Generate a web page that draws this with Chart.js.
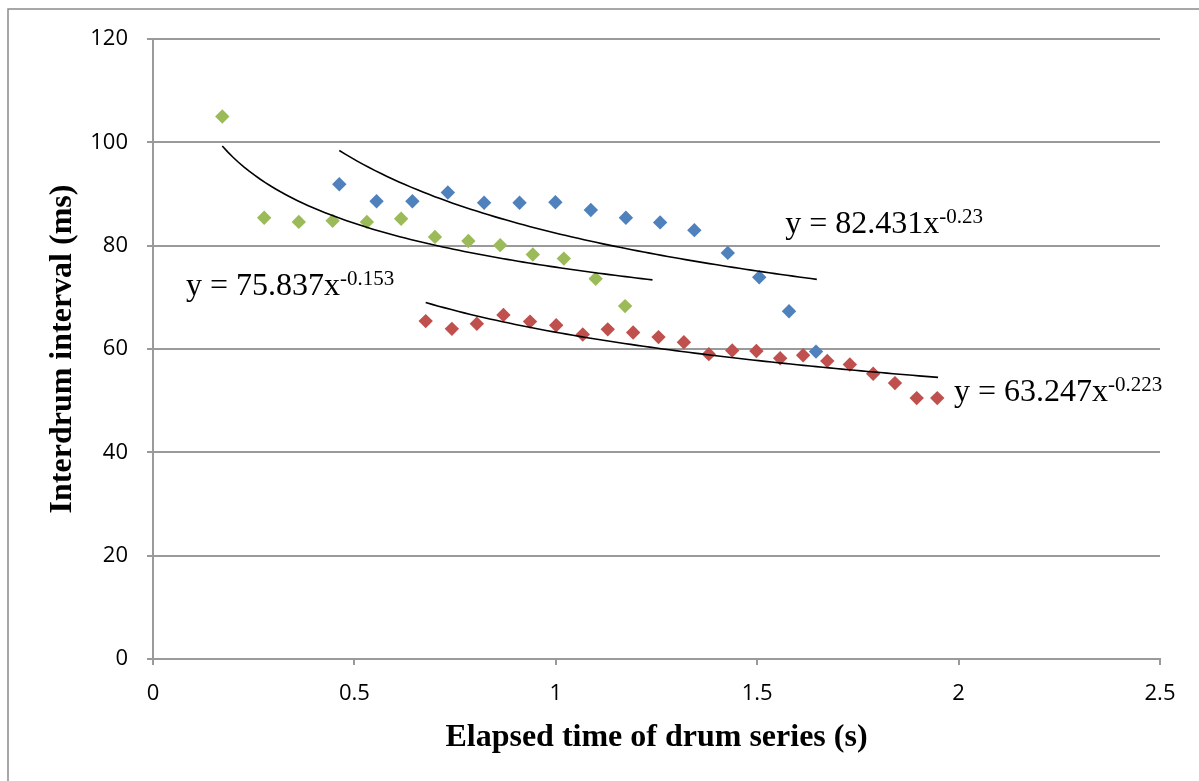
<!DOCTYPE html>
<html>
<head>
<meta charset="utf-8">
<script src="https://cdn.jsdelivr.net/npm/chart.js@4/dist/chart.umd.min.js"></script>
<style>
  html, body { margin: 0; padding: 0; background: #ffffff; }
  #wrap { width: 1199px; height: 781px; position: relative; }
</style>
</head>
<body>
<div id="wrap"><canvas id="c" width="1199" height="781"></canvas></div>
<script>
// ---- data ----
const blueX = [0.4625, 0.555, 0.644, 0.732, 0.822, 0.910, 0.999, 1.087, 1.174, 1.259, 1.344, 1.427, 1.505, 1.579, 1.646];
const blueY = [91.9, 88.6, 88.6, 90.3, 88.3, 88.3, 88.4, 86.9, 85.4, 84.5, 83.0, 78.6, 73.9, 67.3, 59.5];

const redX = [0.677, 0.742, 0.804, 0.870, 0.936, 1.001, 1.067, 1.129, 1.192, 1.255, 1.318, 1.380, 1.438, 1.498, 1.557, 1.614, 1.674, 1.730, 1.788, 1.842, 1.896, 1.947];
const redY = [65.4, 63.9, 64.9, 66.6, 65.3, 64.6, 62.8, 63.8, 63.2, 62.3, 61.3, 59.0, 59.7, 59.6, 58.2, 58.8, 57.7, 57.0, 55.2, 53.4, 50.5, 50.5];

const greenX = [0.172, 0.276, 0.362, 0.446, 0.531, 0.616, 0.700, 0.783, 0.862, 0.943, 1.020, 1.099, 1.172];
const greenY = [105.0, 85.4, 84.6, 84.8, 84.6, 85.2, 81.7, 80.9, 80.1, 78.3, 77.5, 73.6, 68.3];

// power trendlines y = a * x^b (coefficients as printed on the chart)
const trendA = [82.431, 63.247, 75.837];
const trendB = [-0.23, -0.223, -0.153];
const trendFrom = [0.4625, 0.677, 0.172];
const trendTo = [1.648, 1.949, 1.24];
const trendText = ['82.431', '63.247', '75.837'];
const trendExpText = ['-0.23', '-0.223', '-0.153'];

const xTickLabels = ['0', '0.5', '1', '1.5', '2', '2.5'];
const yTickLabels = ['0', '20', '40', '60', '80', '100', '120'];

const seriesColors = ['#4F81BD', '#C0504D', '#9BBB59'];

function pts(xs, ys) { return xs.map((x, i) => ({ x: x, y: ys[i] })); }
function trend(k) {
  const out = [];
  const n = 80;
  for (let i = 0; i <= n; i++) {
    const x = trendFrom[k] + (trendTo[k] - trendFrom[k]) * i / n;
    out.push({ x: x, y: trendA[k] * Math.pow(x, trendB[k]) });
  }
  return out;
}

const seriesData = [pts(blueX, blueY), pts(redX, redY), pts(greenX, greenY)];

const datasets = [];
for (let k = 0; k < 3; k++) {
  datasets.push({
    label: 'trend' + k,
    data: trend(k),
    showLine: true,
    borderColor: '#000000',
    borderWidth: 1.6,
    pointRadius: 0,
    fill: false,
    tension: 0,
    order: 0
  });
}
for (let k = 0; k < 3; k++) {
  datasets.push({
    label: 'series' + k,
    data: seriesData[k],
    showLine: false,
    pointStyle: 'rectRot',
    pointRadius: 7.2,
    pointBackgroundColor: seriesColors[k],
    pointBorderWidth: 0,
    borderWidth: 0,
    order: k + 1
  });
}

// label anchors (left, baseline) in data coordinates for equation text
const labelAnchor = [
  { x: 1.5697, y: 82.5 },
  { x: 1.9885, y: 49.9 },
  { x: 0.0819, y: 70.4 }
];

const borderPlugin = {
  id: 'outerBorder',
  beforeDraw(chart) {
    const ctx = chart.ctx;
    ctx.save();
    ctx.fillStyle = '#ffffff';
    ctx.fillRect(0, 0, chart.width, chart.height);
    ctx.strokeStyle = '#8a8a8a';
    ctx.lineWidth = 1.5;
    ctx.strokeRect(8, 9, chart.width + 10, chart.height + 10);
    ctx.restore();
  }
};

const eqPlugin = {
  id: 'equations',
  afterDatasetsDraw(chart) {
    const ctx = chart.ctx;
    const xs = chart.scales.x, ys = chart.scales.y;
    ctx.save();
    ctx.fillStyle = '#000000';
    ctx.textBaseline = 'alphabetic';
    ctx.textAlign = 'left';
    for (let k = 0; k < 3; k++) {
      const px = xs.getPixelForValue(labelAnchor[k].x);
      const py = ys.getPixelForValue(labelAnchor[k].y);
      ctx.font = '32px "Liberation Serif", "Times New Roman", serif';
      const main = 'y = ' + trendText[k] + 'x';
      ctx.fillText(main, px, py);
      const w = ctx.measureText(main).width;
      ctx.font = '21px "Liberation Serif", "Times New Roman", serif';
      ctx.fillText(trendExpText[k], px + w, py - 10);
    }
    ctx.restore();
  }
};

const gridColor = '#9a9a9a';

new Chart(document.getElementById('c'), {
  type: 'scatter',
  data: { datasets: datasets },
  plugins: [borderPlugin, eqPlugin],
  options: {
    responsive: false,
    animation: false,
    devicePixelRatio: 1,
    layout: { padding: { top: 39, right: 39, left: 0, bottom: 0 } },
    plugins: {
      legend: { display: false },
      tooltip: { enabled: false }
    },
    scales: {
      x: {
        type: 'linear',
        min: 0,
        max: 2.5,
        afterFit(scale) { scale.height = 122; },
        ticks: {
          stepSize: 0.5,
          padding: 16,
          color: '#000000',
          font: { family: '"Open Sans", "Liberation Sans", sans-serif', size: 22 },
          callback: (v) => xTickLabels[Math.round(v / 0.5)] ?? ''
        },
        grid: { drawOnChartArea: false, drawTicks: true, tickLength: 6, color: gridColor, lineWidth: 2 },
        border: { display: true, color: gridColor, width: 2 },
        title: {
          display: true,
          text: 'Elapsed time of drum series (s)',
          color: '#000000',
          font: { family: '"Liberation Serif", "Times New Roman", serif', size: 32, weight: 'bold' },
          padding: { top: 0, bottom: 24 }
        }
      },
      y: {
        type: 'linear',
        min: 0,
        max: 120,
        afterFit(scale) { scale.width = 153; },
        ticks: {
          stepSize: 20,
          padding: 19,
          color: '#000000',
          font: { family: '"Open Sans", "Liberation Sans", sans-serif', size: 22 },
          callback: (v) => yTickLabels[Math.round(v / 20)] ?? ''
        },
        grid: { drawOnChartArea: true, drawTicks: true, tickLength: 6, color: gridColor, lineWidth: 2 },
        border: { display: true, color: gridColor, width: 2 },
        title: {
          display: true,
          text: 'Interdrum interval (ms)',
          color: '#000000',
          font: { family: '"Liberation Serif", "Times New Roman", serif', size: 32, weight: 'bold' },
          padding: { top: 44, bottom: 0 }
        }
      }
    }
  }
});
</script>
</body>
</html>
